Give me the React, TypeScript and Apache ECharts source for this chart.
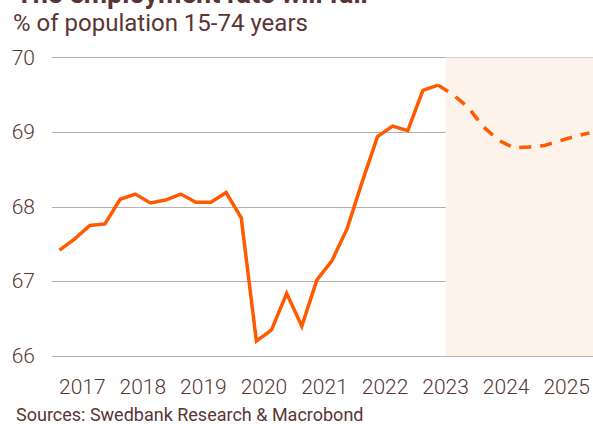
import React, { useEffect, useRef } from "react";
import * as echarts from "echarts";

const years = ["2017", "2018", "2019", "2020", "2021", "2022", "2023", "2024", "2025"];
// quarterly employment rate, 2017Q1 .. 2023Q2 (outcome)
const actual = [
  67.42, 67.57, 67.75, 67.77,
  68.1, 68.17, 68.05, 68.09,
  68.17, 68.06, 68.06, 68.19,
  67.85, 66.2, 66.35, 66.84,
  66.4, 67.02, 67.28, 67.71,
  68.34, 68.94, 69.08, 69.02,
  69.56, 69.63,
];
// forecast, 2023Q2 .. 2025Q4
const forecast = [69.63, 69.5, 69.33, 69.07, 68.89, 68.79, 68.8, 68.82, 68.88, 68.94, 68.99];
const forecastStartIndex = 25;
const shadeFrom = 26;
const quartersTotal = 36;

const TEXT = "#5a3535";
const ORANGE = "#ff5a00";

export default function App() {
  const ref = useRef<HTMLDivElement>(null);
  useEffect(() => {
    if (!ref.current) return;
    const chart = echarts.init(ref.current, undefined, { renderer: "svg" });
    const actualData = actual.map((v, i) => [i + 0.5, v]);
    const forecastData = forecast.map((v, i) => [forecastStartIndex + i + 0.5, v]);
    chart.setOption({
      animation: false,
      backgroundColor: "#ffffff",
      textStyle: { fontFamily: "Roboto" },
      graphic: [
        {
          type: "text",
          left: 16,
          top: -20,
          style: {
            text: "The employment rate will fall",
            font: "bold 27px Roboto",
            fill: TEXT,
          },
        },
        {
          type: "text",
          left: 13,
          top: 11,
          style: {
            text: "% of population 15-74 years",
            font: "normal 24px Roboto",
            fill: TEXT,
          },
        },
        {
          type: "text",
          left: 16,
          top: 405,
          style: {
            text: "Sources: Swedbank Research & Macrobond",
            font: "normal 18px Roboto",
            fill: TEXT,
          },
        },
      ],
      grid: { left: 52, right: 0, top: 57.5, bottom: 68, containLabel: false },
      xAxis: [
        {
          type: "value",
          min: 0,
          max: quartersTotal,
          show: false,
        },
        {
          type: "category",
          data: years,
          boundaryGap: true,
          position: "bottom",
          axisLine: { show: false },
          axisTick: { show: false },
          splitLine: { show: false },
          axisLabel: {
            interval: 0,
            color: TEXT,
            fontSize: 21,
            fontWeight: 300,
            fontFamily: "Roboto",
            margin: 20,
          },
        },
      ],
      yAxis: {
        type: "value",
        min: 66,
        max: 70,
        interval: 1,
        axisLine: { show: false },
        axisTick: { show: false },
        splitLine: { lineStyle: { color: "#bcacac", width: 1 } },
        axisLabel: {
          color: TEXT,
          fontSize: 21,
          fontWeight: 300,
          fontFamily: "Roboto",
          margin: 17,
        },
      },
      series: [
        {
          type: "line",
          xAxisIndex: 0,
          data: forecastData,
          showSymbol: false,
          symbol: "none",
          lineStyle: { color: ORANGE, width: 3.5, type: [12, 9], cap: "butt" },
          markArea: {
            silent: true,
            itemStyle: { color: "#fdf3ea" },
            data: [[{ xAxis: shadeFrom }, { xAxis: quartersTotal }]],
          },
          z: 2,
        },
        {
          type: "line",
          xAxisIndex: 0,
          data: actualData,
          showSymbol: false,
          symbol: "none",
          lineStyle: { color: ORANGE, width: 3.5, join: "miter" },
          z: 3,
        },
      ],
    });
    return () => chart.dispose();
  }, []);
  return (
    <div
      style={{
        position: "fixed",
        left: 0,
        top: 0,
        width: 593,
        height: 424,
        overflow: "hidden",
        background: "#ffffff",
      }}
    >
      <div ref={ref} style={{ width: 597, height: 424 }} />
    </div>
  );
}
